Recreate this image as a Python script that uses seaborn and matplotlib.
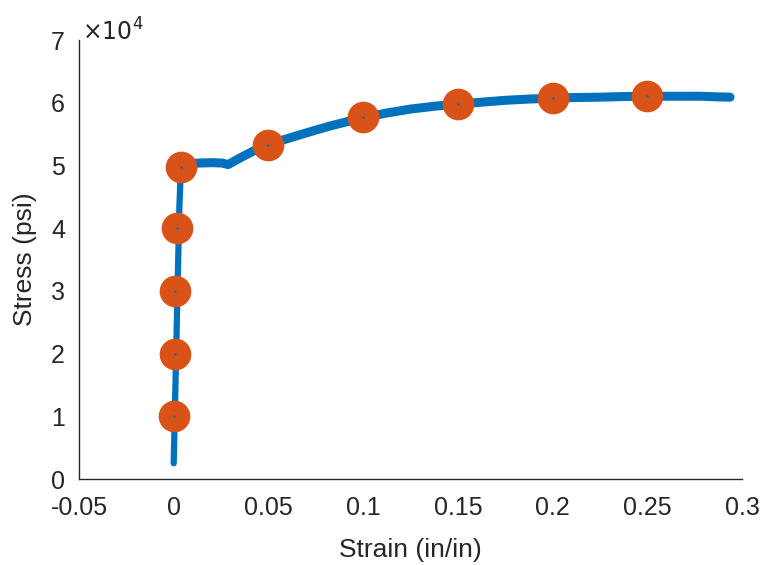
import numpy as np
import pandas as pd
import seaborn as sns
import matplotlib.pyplot as plt
from matplotlib.ticker import FuncFormatter

# stress-strain curve (elastic part, then plastic part)
el_strain = [0.0, 0.0010, 0.0020, 0.0030, 0.0036, 0.0042]
el_stress = [2500, 16000, 30000, 43500, 48000, 50200]
pl_strain = [0.0042, 0.0080, 0.0140, 0.0200, 0.0255, 0.0287, 0.0350, 0.0420,
             0.0498, 0.0580, 0.0667, 0.0750, 0.0825, 0.0910, 0.0994, 0.1120,
             0.1250, 0.1375, 0.1500, 0.1625, 0.1750, 0.1875, 0.2003, 0.2125,
             0.2250, 0.2375, 0.2504, 0.2640, 0.2780, 0.2870, 0.2937]
pl_stress = [50200, 50300, 50400, 50450, 50400, 50150, 51200, 52300,
             53300, 54100, 54900, 55650, 56300, 56950, 57600, 58350,
             59000, 59450, 59800, 60100, 60400, 60600, 60750, 60850,
             60900, 61000, 61050, 61050, 61050, 60950, 60900]

# marked points
pt_strain = [0.0, 0.0007, 0.0009, 0.0019, 0.0039, 0.0500, 0.1000, 0.1500, 0.2000, 0.2500]
pt_stress = [10000, 20000, 30000, 40000, 49700, 53300, 57700, 59800, 60800, 61100]

elastic = pd.DataFrame({"strain": el_strain, "stress": el_stress})
plastic = pd.DataFrame({"strain": pl_strain, "stress": pl_stress})
pts = pd.DataFrame({"strain": pt_strain, "stress": pt_stress})

sns.set_style("white")
plt.rcParams['font.family'] = ['Liberation Sans', 'DejaVu Sans']

fig = plt.figure(figsize=(7.61, 5.65), dpi=100)
ax = fig.add_axes([0.1038, 0.1522, 0.8712, 0.7768])

blue = "#0072BD"
sns.lineplot(data=elastic, x="strain", y="stress", sort=False, estimator=None,
             color=blue, linewidth=4.5, ax=ax)
sns.lineplot(data=plastic, x="strain", y="stress", sort=False, estimator=None,
             color=blue, linewidth=6.5, ax=ax)
sns.scatterplot(data=pts, x="strain", y="stress", color="#D95319", s=520,
                linewidth=0, ax=ax, zorder=3)
sns.scatterplot(data=pts, x="strain", y="stress", color=blue, s=3,
                linewidth=0, ax=ax, zorder=4)

ax.set_xlim(-0.05, 0.3)
ax.set_ylim(0, 70000)
ax.set_xticks([-0.05, 0, 0.05, 0.1, 0.15, 0.2, 0.25, 0.3])
ax.set_xticklabels(["-0.05", "0", "0.05", "0.1", "0.15", "0.2", "0.25", "0.3"])
ax.set_yticks(np.arange(0, 70001, 10000))
ax.yaxis.set_major_formatter(FuncFormatter(lambda v, p: f"{v/1e4:g}"))
ax.text(0.004, 0.988, r"$\times10^{4}$", transform=ax.transAxes, fontsize=17,
        color="#262626", va="bottom", ha="left")

ax.tick_params(direction="in", length=6, width=1, colors="#262626", labelsize=18)
ax.tick_params(axis="x", pad=12)
ax.tick_params(axis="y", pad=10)
sns.despine(ax=ax)
for s in ["left", "bottom"]:
    ax.spines[s].set_color("#262626")
    ax.spines[s].set_linewidth(1)

ax.set_xlabel("Strain (in/in)", fontsize=19, color="#262626", labelpad=13)
ax.set_ylabel("Stress (psi)", fontsize=19, color="#262626", labelpad=10)

fig.savefig("out.png", dpi=100)
